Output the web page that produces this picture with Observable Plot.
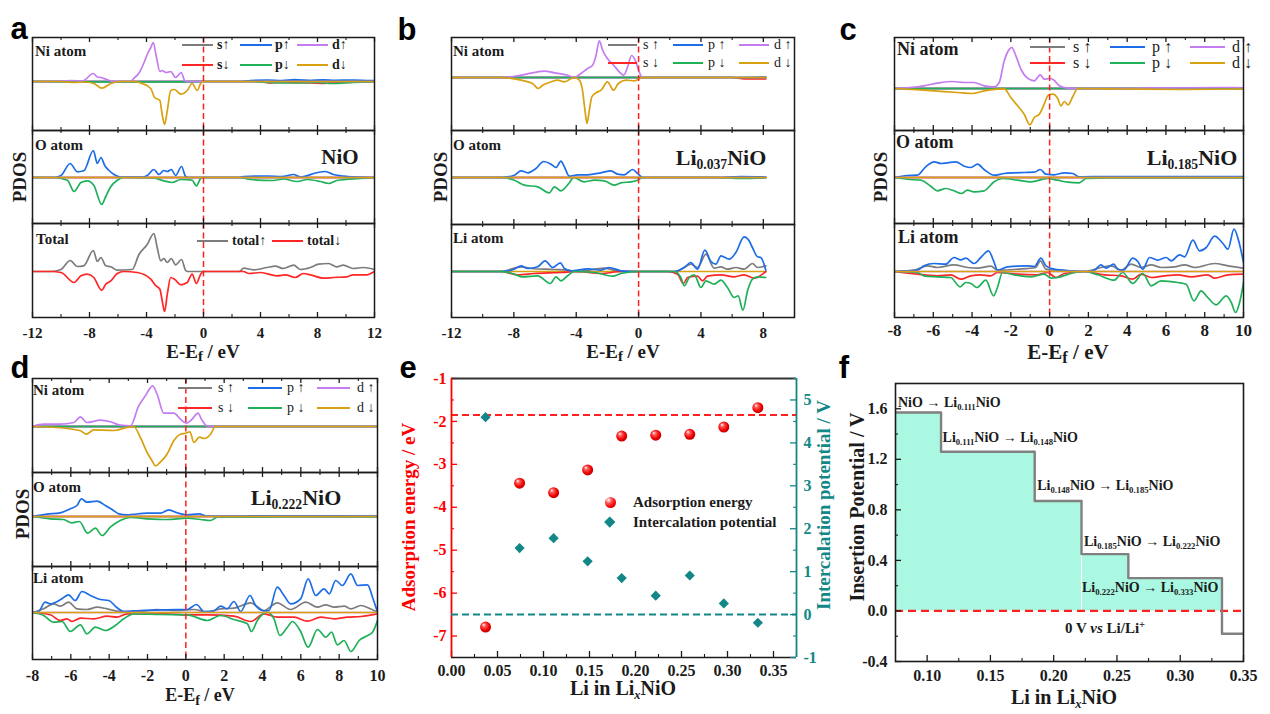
<!DOCTYPE html>
<html><head><meta charset="utf-8">
<script src="https://cdn.jsdelivr.net/npm/d3@7"></script>
<script src="https://cdn.jsdelivr.net/npm/@observablehq/plot@0.6"></script>
<style>
body{margin:0;background:#fff;}
#fig{position:relative;width:1270px;height:714px;overflow:hidden;background:#fff;color:#111;}
#fig svg{position:absolute;overflow:visible;}
.t{position:absolute;white-space:nowrap;line-height:1;}
.t sub{font-size:0.62em;vertical-align:-0.32em;line-height:0;}
.t sub.f{font-size:0.78em;vertical-align:-0.25em;}
.t sup{font-size:0.7em;vertical-align:0.45em;line-height:0;}
.sw{position:absolute;}
</style></head><body><div id="fig"></div>
<script>
// ---------- PDOS data: [energy (eV), PDOS (arb. units)] ----------
// a: NiO
const aNiSUp   = [[-12,0],[5,0],[6,0.8],[8.5,1],[10,0.5],[12,0.3]];
const aNiSDn   = [[-12,0],[4,0],[4.6,-1.5],[5.5,-1],[7,-1.2],[8.4,-1.8],[9.5,-1.2],[12,0]];
const aNiPUp   = [[-12,0],[2.5,0],[3.3,1],[4.5,1.5],[5.5,1],[6.4,1.8],[7.5,1],[8.4,1.6],[9.2,1.2],[10.5,1.5],[12,0.8]];
const aNiPDn   = [[-12,0],[-8,-0.4],[-1.5,-0.4],[0,0],[3,0],[4.8,-1],[6.5,-1.5],[8,-1],[9,-2],[10.5,-1],[12,-0.5]];
const aNiDUp   = [[-12,0],[-10.5,0],[-9.3,1],[-8.5,0.5],[-7.73,8],[-7.45,4.5],[-7.2,4],[-6.8,2],[-6.3,0],[-5.1,0],[-4.9,3],[-4.5,9],[-4.2,18],[-3.95,27],[-3.7,34],[-3.53,39],[-3.3,24],[-3.06,10],[-2.9,11],[-2.78,10],[-2.6,9],[-2.3,10],[-1.96,4],[-1.56,9],[-1.33,1],[-1.2,0],[12,0]];
const aNiDDn   = [[-12,0],[-10,0],[-9.1,-1],[-8.4,-0.5],[-7.7,-2],[-7.14,-6.7],[-6.5,-2],[-5.8,0],[-4.9,0],[-4.3,-2],[-3.7,-7],[-3.43,-16],[-3.06,-19],[-2.9,-33],[-2.73,-43],[-2.54,-29],[-2.3,-9],[-2.03,-8],[-1.6,-12.7],[-1.14,-9],[-0.8,-2],[-0.44,-9],[-0.2,-2],[0,0],[12,0]];
const aOPUp    = [[-12,0],[-10.5,0],[-10,2],[-9.36,14],[-8.85,5.7],[-8.4,6.7],[-7.73,27],[-7.45,14],[-7.2,20],[-6.93,12],[-6.63,7],[-6.28,3],[-5.8,0.5],[-4.2,0.5],[-3.95,2],[-3.48,8],[-3.13,3],[-2.78,7],[-2.54,6],[-2.26,8],[-1.96,2],[-1.54,11],[-1.26,1],[-1.1,0],[2.5,0],[2.8,1],[4.5,1.5],[5.5,1],[6.33,3],[6.8,0.5],[8,5],[8.55,6],[9.1,3],[10.1,1],[12,0]];
const aOPDn    = [[-12,0],[-10.5,0],[-9.55,-2.7],[-9.08,-14],[-8.6,-5],[-8.15,-3.3],[-7.7,-7.7],[-7.14,-27],[-6.86,-19],[-6.5,-9],[-6.05,-2.7],[-5.6,0],[-3.5,-0.5],[-2.78,-3.3],[-2.2,-5],[-1.6,-2],[-0.8,-2.7],[-0.5,-8.3],[-0.2,-1],[0,0],[2.5,0],[3.3,-2],[4.9,-3],[5.6,-1.5],[6.56,-4],[7.3,-2],[8.2,-4],[8.78,-6],[9.36,-3],[11,-1],[12,0]];
const aTotUp   = [[-12,0],[-10.7,0],[-10,2],[-9.36,11],[-8.85,5],[-8.4,5.7],[-7.73,21],[-7.45,10],[-7.2,14],[-6.86,5.7],[-6.5,4.7],[-6.05,1.3],[-5,2],[-4.53,17],[-3.95,27],[-3.48,38],[-3.25,24],[-3,10.7],[-2.78,13],[-2.54,9],[-2.26,13],[-1.96,6.7],[-1.54,12],[-1.26,1.3],[-1.1,0],[2.5,0],[2.83,3.3],[3.5,1.7],[4.46,4],[5.04,5.3],[5.6,3],[6.33,6.3],[6.8,2],[7.5,4],[8.08,7.3],[8.78,8],[9.36,4.7],[9.8,6.3],[10.5,3],[11.2,4],[12,2]];
const aTotDn   = [[-12,0],[-10.7,0],[-10,-1],[-9.08,-11],[-8.6,-4.3],[-8.15,-2.7],[-7.7,-6],[-7.14,-18.7],[-6.86,-12.7],[-6.5,-9.3],[-6.05,-2],[-5.6,0],[-4.65,-1],[-3.7,-7.7],[-3.36,-14],[-3.06,-17.7],[-2.9,-29],[-2.73,-40],[-2.54,-22.7],[-2.3,-6],[-2.03,-7.7],[-1.6,-13.3],[-1.14,-11],[-0.8,-2.7],[-0.5,-12],[-0.2,-2.7],[0,0],[2.8,0],[3.18,-2],[4,-1],[5.16,-4.3],[5.74,-3.3],[6.44,-6],[7,-2],[7.5,-3.3],[8.43,-6.7],[9.13,-6],[10.06,-5.3],[10.5,-3.3],[11.46,-3.3],[12,0]];
const aFlat    = [[-12,0],[12,0]];

// b: Li0.037NiO
const bNiSUp   = [[-12,0],[7,0],[8.16,0.7]];
const bNiSDn   = [[-12,0],[6,0],[6.8,-1.3],[8.16,-1.3]];
const bNiDUp   = [[-12,0],[-8.8,0],[-7.54,2.3],[-6.47,5.7],[-6.05,6.3],[-5.4,4.7],[-4.55,2.3],[-4.12,0],[-3.7,4],[-3.27,9],[-2.95,12.3],[-2.73,22],[-2.52,36.7],[-2.3,27],[-2,19],[-1.6,12.3],[-1.24,5.7],[-0.96,2.3],[-0.7,10.7],[-0.45,22],[-0.17,15.7],[0.04,5.7],[0.26,0],[8.16,0]];
const bNiDDn   = [[-12,0],[-8.8,0],[-7.54,-2.7],[-6.8,-6],[-6.43,-11],[-6.15,-7.7],[-5.6,-4.3],[-5.2,-2.7],[-4.76,-4.3],[-4.12,0],[-3.8,-2.7],[-3.6,-12.7],[-3.44,-32.7],[-3.31,-46],[-3.16,-32.7],[-3,-19.3],[-2.73,-15.3],[-2.4,-12.7],[-2,-4.3],[-1.6,-12.7],[-1.3,-6],[-0.8,-2.7],[-0.28,-3.3],[0.26,0],[8.16,0]];
const bOPUp    = [[-12,0],[-8.8,0],[-7.97,2.3],[-7.54,6.7],[-7.1,4.7],[-6.58,9],[-6.09,16],[-5.62,13.3],[-5.3,10],[-4.98,16.3],[-4.76,10.7],[-4.44,1.3],[-3.9,2.7],[-3.27,2.7],[-2.41,4.7],[-1.77,6.7],[-1.35,3.3],[-0.92,2.7],[-0.38,8],[-0.06,4],[0.26,0],[5,0],[6.56,1],[8.16,0.5]];
const bOPDn    = [[-12,0],[-8.8,0],[-7.97,-2.7],[-7.33,-7.7],[-6.47,-9.3],[-5.73,-15.3],[-5.4,-9.3],[-4.98,-13.3],[-4.44,-5.3],[-4.17,0],[-3.48,-4.3],[-2.84,-2.7],[-2.2,-3.3],[-1.56,-7.7],[-1.13,-5.3],[-0.49,-4.3],[-0.06,-2.7],[0.26,0],[5,0],[6.56,-1],[8.16,-0.3]];
const bLiSUp   = [[-12,0],[-8.8,0],[-7.54,4.7],[-6.9,3],[-5.4,2],[-4.55,1.3],[-4,0],[-2.2,3.3],[-1.1,0],[2.29,0],[2.93,4],[3.35,7.3],[3.78,4],[4.32,17.3],[4.85,3.3],[5.28,4.7],[5.7,2.3],[6.24,4],[6.77,2.3],[7.3,8],[7.63,4],[8.16,5.7]];
const bLiSDn   = [[-12,0],[-8.8,0],[-7.76,-3.3],[-6.69,-2],[-4.98,-1],[-4,0],[-2.4,-2],[-1.1,0],[1.86,0],[2.5,-2.7],[2.88,-12],[3.14,-6],[3.78,-4.7],[4.1,-9.3],[4.42,-4.7],[5.28,-3.3],[6.13,-5.3],[6.77,-3.3],[7.41,-6.7],[8.16,0]];
const bLiPUp   = [[-12,0],[-8.8,0],[-7.97,2.3],[-7.54,5.7],[-7.1,3],[-6.47,4.7],[-6,10.7],[-5.5,4],[-5.02,8.7],[-4.76,3],[-4.34,0.7],[-3.27,2.7],[-2.41,1.3],[-1.88,4],[-1.13,0.7],[0,0],[2.29,0],[2.93,4],[3.35,9],[3.78,2.3],[4.25,21.3],[4.64,10],[4.96,7.3],[5.28,15.7],[5.81,12.3],[6.24,19],[6.77,34.7],[7.09,30.7],[7.3,24],[7.63,14.7],[7.84,14],[8.16,1.3]];
const bLiPDn   = [[-12,0],[-8.8,0],[-7.97,-2.7],[-7.44,-5.3],[-6.47,-4.3],[-5.66,-12],[-5.3,-5.3],[-4.98,-9.3],[-4.55,-4.3],[-4.12,0],[-2.84,-1],[-1.67,-4.7],[-1.13,-2],[0,0],[2.29,0],[2.71,-6],[2.93,-14.3],[3.25,-6],[3.57,-3.3],[4,-16],[4.32,-9.3],[4.85,-12.7],[5.28,-8.7],[5.7,-16],[6.13,-26],[6.39,-24.3],[6.69,-38.7],[6.99,-19.3],[7.3,-7.7],[7.63,-5.3],[8.16,-6]];
const bFlat    = [[-12,0],[8.16,0]];

// c: Li0.185NiO
const cNiDUp   = [[-8,0],[-7.2,1],[-6.48,2.7],[-5.79,5.3],[-5,7],[-4.4,6],[-3.9,6],[-3.37,2.7],[-2.86,1.7],[-2.6,6],[-2.34,27.7],[-2.13,37.7],[-1.95,41],[-1.74,32.7],[-1.48,19.3],[-1.14,10.3],[-0.79,7.7],[-0.48,13.7],[-0.28,9.3],[0,10],[0.2,8.7],[0.5,2.7],[0.93,0.3],[1.45,0],[4,0],[5,0.5],[7,0.7],[9.5,1],[10,0.5]];
const cNiDDn   = [[-8,0],[-6.48,-1.7],[-4.75,-4],[-3.98,-5],[-3.37,-2.3],[-2.7,-0.7],[-2.34,-0.3],[-2,-9],[-1.65,-17.3],[-1.31,-25.7],[-1.02,-36.3],[-0.79,-29],[-0.53,-25.7],[-0.28,-15.7],[-0.07,-6.7],[0.16,-5.7],[0.41,-9.7],[0.59,-17.3],[0.76,-13],[0.96,-16.3],[1.19,-8.3],[1.45,0],[4,-0.5],[7,-1],[10,-0.5]];
const cOPUp    = [[-8,0],[-7.34,2],[-6.82,2.3],[-6.39,10.7],[-5.96,15.7],[-5.6,14],[-5.27,14.7],[-4.84,15.7],[-4.4,11.3],[-4.06,10],[-3.72,13.3],[-3.38,8],[-2.86,2.3],[-2.34,4],[-1.31,5],[-0.79,5.3],[-0.48,8],[-0.19,3.3],[0.24,2.7],[0.76,4.7],[1.19,4],[1.53,0.7],[3,1],[10,1]];
const cOPDn    = [[-8,0],[-7.17,-2],[-6.65,-2.7],[-6.13,-8.7],[-5.79,-13.3],[-5.36,-11],[-4.93,-13.3],[-4.55,-16],[-4.24,-12.7],[-3.9,-14.3],[-3.38,-13.3],[-2.86,-4.3],[-2.43,-1],[-1.65,-2.7],[-0.96,-4.3],[-0.1,-1],[0.41,-2.7],[0.93,-4.7],[1.53,-5.3],[1.88,-1],[3,-0.5],[10,-0.5]];
const cLiSUp   = [[-8,0],[-7,1.3],[-6.3,5.7],[-5.79,4],[-4.93,6.7],[-4.24,4],[-3.72,3.3],[-3.03,5.3],[-2.69,1.3],[-1.65,2.3],[-0.71,4],[-0.48,10.7],[-0.19,2.3],[0.76,0.7],[1.79,0],[2.65,4],[3.17,5.7],[3.69,1.3],[4.2,7.3],[4.72,4],[5.24,6.7],[5.75,4],[6.44,4.7],[6.96,6.7],[7.48,4],[8.51,8],[9.2,5.7],[10,3.3]];
const cLiSDn   = [[-8,0],[-6.82,-2.7],[-5.79,-4.3],[-5.1,-3.3],[-4.58,-7.7],[-4.06,-4.3],[-3.55,-3.3],[-3.03,-4.3],[-2.69,-1],[-1.65,-2.7],[-0.62,-3.3],[-0.1,-1],[0.33,-6],[0.76,-2],[1.79,0],[2.82,-3.3],[3.69,-4.3],[4.29,-7.7],[4.72,-2.7],[5.24,-6],[5.92,-4.3],[6.61,-3.3],[7.3,-5.3],[8.16,-3.3],[8.51,-6.7],[9.2,-3.3],[10,-2.7]];
const cLiPUp   = [[-8,0],[-6.82,1.3],[-6.48,5.7],[-5.96,8],[-5.36,7.3],[-4.93,14],[-4.58,11.7],[-4.32,13.3],[-3.9,8],[-3.55,14],[-3.15,20.7],[-2.89,10.7],[-2.69,1.3],[-2.17,4.7],[-1.14,5.7],[-0.79,5],[-0.45,13.3],[-0.19,5.7],[0.24,2.3],[1.1,0.7],[1.96,0],[2.31,1.3],[2.65,6.7],[2.91,3.3],[3.31,7.3],[3.51,2.3],[3.82,1.3],[4.29,13.3],[4.55,10],[4.81,2.3],[5.15,14],[5.58,11.3],[6.01,14],[6.27,10.7],[6.7,16.7],[6.96,14.7],[7.39,31.3],[7.73,20.7],[8.08,24],[8.51,35.3],[8.94,28],[9.2,22.3],[9.51,42.3],[9.75,30.7],[10,9]];
const cLiPDn   = [[-8,0],[-6.82,-1],[-6.48,-4.3],[-5.79,-5.3],[-5.1,-6],[-4.62,-15.3],[-4.32,-11],[-4.06,-12],[-3.75,-16],[-3.29,-8.7],[-2.89,-24.3],[-2.69,-16],[-2.43,-1],[-1.83,-3.3],[-0.96,-5.3],[-0.28,-2.7],[0.07,-6.7],[0.41,-6],[1.1,-2],[1.79,0],[2.48,-3.3],[3.34,-8.7],[3.77,-1],[4.29,-12],[4.81,-2],[5.24,-14.3],[5.75,-9.3],[6.61,-11],[7.04,-12.7],[7.44,-29.3],[7.82,-19.3],[8.08,-24.3],[8.59,-33.3],[9.11,-24.3],[9.37,-31],[9.59,-41],[9.8,-31],[10,-11]];
const cdFlat   = [[-8,0],[10,0]];

// d: Li0.222NiO
const dNiDUp   = [[-8,0],[-7.42,2.3],[-6.55,2.3],[-5.85,4],[-5.5,9.7],[-5.16,4],[-4.46,6.3],[-3.94,4.7],[-3.42,1.3],[-2.89,0.7],[-2.46,20.7],[-2.11,30.7],[-1.73,40.7],[-1.5,32.3],[-1.15,13.3],[-0.63,13.3],[-0.28,7.3],[0.03,3.3],[0.33,7.3],[0.63,13.3],[0.85,6],[1.15,0],[10,0]];
const dNiDDn   = [[-8,0],[-6.2,-2],[-5.5,-4.3],[-5.19,-7.7],[-4.8,-3.3],[-3.76,-4],[-3.07,-1],[-2.72,0],[-2.37,-11],[-2.02,-26],[-1.76,-34.3],[-1.59,-39.3],[-1.32,-35.3],[-0.98,-27.7],[-0.63,-14.3],[-0.28,-7.7],[0,-6.7],[0.21,-5.3],[0.42,-16],[0.71,-10.7],[0.98,-12],[1.29,-7.7],[1.55,0],[10,0]];
const dOPUp    = [[-8,0],[-7.25,2.3],[-6.55,3.7],[-6.03,7.7],[-5.68,11],[-5.45,17.7],[-5.16,14.3],[-4.63,15.3],[-4.2,11],[-3.85,7],[-3.5,2.7],[-3.07,1.7],[-2.02,3.3],[-1.32,3.3],[-0.89,6.7],[-0.45,3.7],[0.07,1.7],[0.68,2.7],[1.12,0.3],[3,0.5],[5,0.7],[10,0.5]];
const dOPDn    = [[-8,0],[-7.07,-2.3],[-6.38,-3],[-5.94,-6.3],[-5.56,-5],[-5.12,-16.7],[-4.72,-11.7],[-4.37,-19],[-3.94,-10.7],[-3.42,-4],[-2.89,-1],[-2.02,-2.3],[-0.98,-3],[0.07,-1.7],[0.77,-3],[1.29,-4],[1.64,-0.7],[5,-0.5],[10,-0.5]];
const dLiSUp   = [[-8,0],[-7.42,3.7],[-6.9,8.7],[-6.55,6.3],[-6.12,10.3],[-5.68,3.7],[-5.16,3],[-4.63,5.3],[-4.11,3.7],[-3.42,1],[-2.37,1],[-1.5,3],[-0.45,2],[0.42,3],[1.12,0.3],[1.81,3.7],[2.51,4.3],[3.38,9.7],[4.08,2],[4.77,9.7],[5.47,3],[6.26,10.3],[6.87,5.3],[7.3,7.7],[7.74,5.3],[8.26,6.3],[8.61,3.7],[9.13,7],[9.57,4.3],[10,0.3]];
const dLiSDn   = [[-8,0],[-7.07,-2.3],[-6.55,-8],[-6.2,-6.3],[-5.94,-9],[-5.5,-5.7],[-4.8,-6.3],[-4.11,-3.7],[-3.59,-4.7],[-3.07,-1.3],[-0.98,-1.3],[0.07,-2.3],[1.12,-2.3],[2.51,-3.7],[3.38,-9],[4.08,-1.3],[4.77,-4.7],[5.65,-4.7],[6.34,-8.7],[7.04,-4.7],[7.74,-6.3],[8.43,-4.7],[9.13,-4],[10,-1.3]];
const dLiPUp   = [[-8,0],[-7.68,1],[-7.34,10.3],[-7.07,8.7],[-6.55,12.7],[-6.12,17.7],[-5.77,12],[-5.42,21],[-4.98,17],[-4.46,13],[-4.02,12],[-3.62,5.3],[-3.24,1],[-2.37,2],[-0.98,2.7],[0.07,3],[0.56,8],[0.94,1],[1.46,1.7],[1.81,6.3],[2.16,3.7],[2.51,11],[2.86,1],[3.35,17],[3.64,7],[4.08,1.7],[4.34,2],[4.77,25.3],[5.12,17],[5.47,8.7],[5.99,13.7],[6.38,33.7],[6.78,17],[7.21,23.7],[7.48,18.7],[7.82,32],[8.17,27],[8.61,38.7],[8.96,27],[9.48,27.7],[9.74,15.3],[10,0.3]];
const dLiPDn   = [[-8,0],[-7.42,-3],[-6.9,-9.7],[-6.46,-9],[-6.03,-19],[-5.5,-12.3],[-5.16,-21.3],[-4.72,-14.7],[-4.2,-18],[-3.68,-13],[-3.24,-6.3],[-2.72,-1.3],[-1.32,-2],[0.07,-2.3],[1.12,-8],[1.81,-3],[2.51,-7],[3.21,-11.3],[3.42,-19],[3.73,-8],[4.25,0.3],[4.6,-6.3],[4.91,-23],[5.3,-14.7],[5.56,-9],[5.99,-19],[6.38,-34.7],[6.87,-17],[7.3,-24.7],[7.6,-19.7],[7.91,-32.3],[8.26,-28],[8.61,-39],[9.04,-28],[9.48,-23],[9.74,-19.7],[10,-8]];

// ---------- e: adsorption energy and intercalation potential ----------
const eLi  = [0.037, 0.074, 0.111, 0.148, 0.185, 0.222, 0.259, 0.296, 0.333];
const eAds = [-6.79, -3.44, -3.66, -3.13, -2.34, -2.32, -2.30, -2.13, -1.68];   // eV
const ePot = [4.60, 1.55, 1.78, 1.24, 0.85, 0.44, 0.91, 0.26, -0.19];           // V
const eAdsRef = -1.85;
const ePotRef = 0;

// ---------- f: insertion potential steps ----------
const fStart = [0.074, 0.111, 0.185, 0.222, 0.259, 0.333];
const fPot   = [1.57, 1.26, 0.87, 0.45, 0.26, -0.18];
const fEnd   = 0.35;
const fSteps = ["NiO → Li<sub>0.111</sub>NiO", "Li<sub>0.111</sub>NiO → Li<sub>0.148</sub>NiO",
  "Li<sub>0.148</sub>NiO → Li<sub>0.185</sub>NiO", "Li<sub>0.185</sub>NiO → Li<sub>0.222</sub>NiO",
  "Li<sub>0.222</sub>NiO → Li<sub>0.333</sub>NiO"];

// ---------- styling ----------
const SERIF = "'Liberation Serif','Times New Roman',serif";
const SANS = "'Liberation Sans',Arial,sans-serif";
const INK = "#1b1b1b";
const C = {gray:"#7c7c7c", red:"#ff2626", blue:"#1d6ce8", green:"#1fb05a", purple:"#c47cf0", gold:"#d8a10f"};
const DASH_RED = "#ff2020";
const TEAL = "#138787";
const AQUA = "#aaf8e2";

const fig = document.getElementById("fig");

function label(html, x, y, o = {}) {
  const d = document.createElement("div");
  d.className = "t";
  d.innerHTML = html;
  const s = d.style;
  s.left = x + "px"; s.top = y + "px";
  s.fontSize = (o.size || 15) + "px";
  s.fontFamily = o.family || SERIF;
  s.fontWeight = o.weight || "bold";
  s.color = o.color || INK;
  const ax = o.anchor === "middle" ? "-50%" : o.anchor === "end" ? "-100%" : "0";
  s.transform = `translate(${ax},-50%)` + (o.rotate ? ` rotate(${o.rotate}deg)` : "");
  fig.appendChild(d);
  return d;
}
function swatchLine(x1, x2, y, color) {
  const d = document.createElement("div");
  d.className = "sw";
  Object.assign(d.style, {left: x1 + "px", top: (y - 1) + "px", width: (x2 - x1) + "px", height: "2px", background: color});
  fig.appendChild(d);
}
function box(left, top, width, height, xDomain, yDomain, marks, withX = false) {
  const svg = Plot.plot({
    width, height, marginTop: 0, marginRight: 0, marginBottom: 0, marginLeft: 0,
    x: withX ? {domain: xDomain} : {domain: xDomain, axis: null},
    y: {domain: yDomain, axis: null},
    style: {overflow: "visible", background: "transparent", fontFamily: SERIF},
    marks
  });
  svg.style.left = left + "px";
  svg.style.top = top + "px";
  fig.appendChild(svg);
  return svg;
}
const seq = (a, b, s) => d3.range(Math.round((b - a) / s) + 1).map(i => +(a + i * s).toFixed(4));

// ---------- PDOS panels ----------
function pdosPanel(P) {
  const W = P.right - P.left;
  P.subs.forEach((sub, k) => {
    const top = P.bounds[k], bottom = P.bounds[k + 1], H = bottom - top, z = P.zeros[k];
    const last = k === P.subs.length - 1;
    const marks = sub.map(([data, color]) => Plot.line(data, {x: d => d[0], y: d => d[1], stroke: color, strokeWidth: 1.7, curve: "monotone-x", clip: true}));
    marks.push(Plot.ruleX([0], {stroke: DASH_RED, strokeWidth: 1.5, strokeDasharray: "6,3.5"}));
    marks.push(Plot.tickX(P.major, {x: d => d, insetBottom: H - 5, stroke: INK, strokeWidth: 1.3}));
    marks.push(Plot.tickX(P.minor, {x: d => d, insetBottom: H - 3, stroke: INK, strokeWidth: 1.1}));
    marks.push(Plot.tickX(P.major, {x: d => d, insetTop: H - 5, stroke: INK, strokeWidth: 1.3}));
    marks.push(Plot.tickX(P.minor, {x: d => d, insetTop: H - 3, stroke: INK, strokeWidth: 1.1}));
    marks.push(Plot.frame({stroke: INK, strokeWidth: 1.5}));
    if (last) marks.push(Plot.axisX({ticks: P.major, tickSize: 0, tickPadding: P.pad, tickFormat: d => String(d), label: null,
      fontSize: P.font, fontWeight: "bold", fontFamily: SERIF, fill: INK}));
    box(P.left, top, W, H, P.x, [-(bottom - z), z - top], marks, last);
  });
  // legend in the Ni block
  const L = P.legend;
  const rows = [[["s", C.gray], ["p", C.blue], ["d", C.purple]], [["s", C.red], ["p", C.green], ["d", C.gold]]];
  rows.forEach((row, r) => row.forEach(([name, color], i) => {
    swatchLine(L.lines[i][0], L.lines[i][1], L.rows[r], color);
    label(name + L.gap + (r ? "↓" : "↑"), L.text[i], L.rows[r], {size: L.size, weight: L.weight});
  }));
}

pdosPanel({
  left: 32, right: 374, bounds: [37, 130, 223, 317], zeros: [81, 177, 271],
  x: [-12, 12], major: seq(-12, 12, 4), minor: seq(-10, 10, 4), font: 15, pad: 10,
  subs: [
    [[aNiSUp, C.gray], [aNiSDn, C.red], [aNiPUp, C.blue], [aNiPDn, C.green], [aNiDUp, C.purple], [aNiDDn, C.gold]],
    [[aFlat, C.gray], [aFlat, C.red], [aOPUp, C.blue], [aOPDn, C.green], [aFlat, C.purple], [aFlat, C.gold]],
    [[aTotUp, C.gray], [aTotDn, C.red]]
  ],
  legend: {rows: [45, 65], lines: [[182, 213], [240, 272], [297, 328]], text: [217, 275, 332], size: 14, weight: "bold", gap: ""}
});
pdosPanel({
  left: 451, right: 794, bounds: [37, 130, 224, 317], zeros: [77, 177, 271],
  x: [-12, 10], major: seq(-12, 8, 4), minor: seq(-10, 10, 4), font: 15, pad: 10,
  subs: [
    [[bNiSUp, C.gray], [bNiSDn, C.red], [bFlat, C.blue], [bFlat, C.green], [bNiDUp, C.purple], [bNiDDn, C.gold]],
    [[bFlat, C.gray], [bFlat, C.red], [bOPUp, C.blue], [bOPDn, C.green], [bFlat, C.purple], [bFlat, C.gold]],
    [[bFlat, C.gold], [bLiSUp, C.gray], [bLiSDn, C.red], [bLiPUp, C.blue], [bLiPDn, C.green]]
  ],
  legend: {rows: [45, 63], lines: [[608, 637], [673, 703], [739, 769]], text: [643, 708, 774], size: 14, weight: "normal", gap: " "}
});
pdosPanel({
  left: 894, right: 1243, bounds: [37, 130, 223, 317], zeros: [88, 177, 271],
  x: [-8, 10], major: seq(-8, 10, 2), minor: seq(-7, 9, 2), font: 17, pad: 6,
  subs: [
    [[cdFlat, C.gray], [cdFlat, C.red], [cdFlat, C.blue], [cdFlat, C.green], [cNiDUp, C.purple], [cNiDDn, C.gold]],
    [[cdFlat, C.gray], [cdFlat, C.red], [cOPUp, C.blue], [cOPDn, C.green], [cdFlat, C.purple], [cdFlat, C.gold]],
    [[cLiSUp, C.gray], [cLiSDn, C.red], [cLiPUp, C.blue], [cLiPDn, C.green], [cdFlat, C.purple], [cdFlat, C.gold]]
  ],
  legend: {rows: [47, 63], lines: [[1030, 1065], [1110, 1145], [1190, 1225]], text: [1073, 1152, 1232], size: 16, weight: "normal", gap: " "}
});
pdosPanel({
  left: 32, right: 377, bounds: [378, 472, 566, 659], zeros: [426, 516, 612],
  x: [-8, 10], major: seq(-8, 10, 2), minor: seq(-7, 9, 2), font: 16, pad: 10,
  subs: [
    [[cdFlat, C.gray], [cdFlat, C.red], [cdFlat, C.blue], [cdFlat, C.green], [dNiDUp, C.purple], [dNiDDn, C.gold]],
    [[cdFlat, C.gray], [cdFlat, C.red], [dOPUp, C.blue], [dOPDn, C.green], [cdFlat, C.purple], [cdFlat, C.gold]],
    [[dLiSUp, C.gray], [dLiSDn, C.red], [dLiPUp, C.blue], [dLiPDn, C.green], [cdFlat, C.purple], [cdFlat, C.gold]]
  ],
  legend: {rows: [388, 408], lines: [[178, 212], [248, 282], [317, 350]], text: [218, 287, 357], size: 14, weight: "normal", gap: " "}
});

// PDOS block labels
label("Ni atom", 35, 51); label("O atom", 35, 145); label("Total", 36, 239);
swatchLine(197, 228, 241, C.gray); label("total↑", 232, 241, {size: 14});
swatchLine(272, 303, 241, C.red); label("total↓", 307, 241, {size: 14});
label("NiO", 340, 157, {size: 21, anchor: "middle"});
label("Ni atom", 453, 51); label("O atom", 453, 145); label("Li atom", 453, 238);
label("Li<sub>0.037</sub>NiO", 721, 158, {size: 22, anchor: "middle"});
label("Ni atom", 897, 49, {size: 18}); label("O atom", 896, 142, {size: 18}); label("Li atom", 898, 237, {size: 18});
label("Li<sub>0.185</sub>NiO", 1192, 158, {size: 22, anchor: "middle"});
label("Ni atom", 33, 390); label("O atom", 33, 487); label("Li atom", 33, 578);
label("Li<sub>0.222</sub>NiO", 296, 498, {size: 22, anchor: "middle"});
for (const [x, y] of [[19, 177], [440, 177], [880, 177], [22, 514]])
  label("PDOS", x, y, {size: 19, anchor: "middle", rotate: -90});
label('E-E<sub class="f">f</sub> / eV', 203, 351, {size: 19, anchor: "middle"});
label('E-E<sub class="f">f</sub> / eV', 623, 351, {size: 19, anchor: "middle"});
label('E-E<sub class="f">f</sub> / eV', 1068, 352, {size: 21, anchor: "middle"});
label('E-E<sub class="f">f</sub> / eV', 200, 695, {size: 18, anchor: "middle"});

// ---------- panel e ----------
{
  const rows = eLi.map((x, i) => ({x, ads: eAds[i], pot: ePot[i]}));
  const L = 451, T = 378, W = 345, H = 279, X = [0, 0.375];
  const xMaj = seq(0, 0.35, 0.05), xMin = seq(0.025, 0.375, 0.05);
  const svgA = box(L, T, W, H, X, [-7.5, -1], [
    Plot.ruleY([eAdsRef], {stroke: DASH_RED, strokeWidth: 2, strokeDasharray: "7,4"}),
    Plot.dot(rows, {x: "x", y: "ads", r: 5.5, fill: "url(#ballRed)", stroke: "none"}),
    Plot.tickY(seq(-7, -1, 1), {y: d => d, insetRight: W - 6, stroke: "#ff0000", strokeWidth: 1.3}),
    Plot.tickY(seq(-7.5, -1.5, 1), {y: d => d, insetRight: W - 3, stroke: "#ff0000", strokeWidth: 1.1}),
    Plot.tickX(xMaj, {x: d => d, insetTop: H - 6, stroke: INK, strokeWidth: 1.3}),
    Plot.tickX(xMin, {x: d => d, insetTop: H - 3, stroke: INK, strokeWidth: 1.1}),
    Plot.ruleY([-1], {stroke: "#333", strokeWidth: 2}),
    Plot.ruleY([-7.5], {stroke: INK, strokeWidth: 1.5}),
    Plot.ruleX([0], {stroke: "#ff0000", strokeWidth: 1.8}),
    Plot.axisY({ticks: seq(-7, -1, 1), tickSize: 0, tickPadding: 5, tickFormat: d => String(d), label: null,
      fontSize: 16, fontWeight: "bold", fontFamily: SERIF, fill: "#ff0000"}),
    Plot.axisX({ticks: xMaj, tickSize: 0, tickPadding: 7, tickFormat: d => d.toFixed(2), label: null,
      fontSize: 16, fontWeight: "bold", fontFamily: SERIF, fill: INK})
  ], true);
  const NS = "http://www.w3.org/2000/svg";
  const defs = document.createElementNS(NS, "defs");
  const g = document.createElementNS(NS, "radialGradient");
  for (const [k, v] of [["id", "ballRed"], ["cx", "0.45"], ["cy", "0.45"], ["r", "0.6"], ["fx", "0.32"], ["fy", "0.28"]]) g.setAttribute(k, v);
  for (const [o, c] of [["0", "#ffffff"], ["0.28", "#ff5a5a"], ["0.7", "#ee0000"], ["1", "#b30000"]]) {
    const s = document.createElementNS(NS, "stop"); s.setAttribute("offset", o); s.setAttribute("stop-color", c); g.appendChild(s);
  }
  defs.appendChild(g); svgA.insertBefore(defs, svgA.firstChild);

  box(L, T, W, H, X, [-1, 5.5], [
    Plot.ruleY([ePotRef], {stroke: TEAL, strokeWidth: 2, strokeDasharray: "7,4"}),
    Plot.dot(rows, {x: "x", y: "pot", r: 4.6, symbol: "diamond2", fill: TEAL, stroke: "none"}),
    Plot.tickY(seq(-1, 5, 1), {y: d => d, insetLeft: W - 6, stroke: TEAL, strokeWidth: 1.3}),
    Plot.tickY(seq(-0.5, 5, 1), {y: d => d, insetLeft: W - 3, stroke: TEAL, strokeWidth: 1.1}),
    Plot.ruleX([0.375], {stroke: TEAL, strokeWidth: 1.8}),
    Plot.axisY({anchor: "right", ticks: seq(-1, 5, 1), tickSize: 0, tickPadding: 7, tickFormat: d => String(d), label: null,
      fontSize: 16, fontWeight: "bold", fontFamily: SERIF, fill: TEAL})
  ]);

  // legend
  const ball = document.createElement("div");
  Object.assign(ball.style, {position: "absolute", left: "604.5px", top: "496.5px", width: "11px", height: "11px", borderRadius: "50%",
    background: "radial-gradient(circle at 32% 28%, #fff 0, #ff5a5a 28%, #ee0000 65%, #b30000 100%)"});
  fig.appendChild(ball);
  const dia = document.createElement("div");
  Object.assign(dia.style, {position: "absolute", left: "606px", top: "518px", width: "7.5px", height: "7.5px", background: TEAL, transform: "rotate(45deg)"});
  fig.appendChild(dia);
  label("Adsorption energy", 633, 502, {size: 15});
  label("Intercalation potential", 633, 522, {size: 15});
  label("Adsorption energy / eV", 408, 517, {size: 19, anchor: "middle", rotate: -90, color: "#ff0000"});
  label("Intercalation potential / V", 823, 505, {size: 19, anchor: "middle", rotate: -90, color: TEAL});
  label("Li in Li<sub><i>x</i></sub>NiO", 623, 688, {size: 20, anchor: "middle"});
}

// ---------- panel f ----------
{
  const L = 895, T = 383, W = 348, H = 278, X = [0.075, 0.35];
  const line = fStart.map((x, i) => [x, fPot[i]]).concat([[fEnd, fPot[fPot.length - 1]]]);
  const fillA = line.slice(0, 4).concat([[fStart[3], fPot[3]]]);          // up to the 0.222 seam
  const fillB = line.slice(3, 5).concat([[fStart[5], fPot[4]]]);          // 0.222 → 0.333
  const xMaj = seq(0.10, 0.35, 0.05), xMin = seq(0.125, 0.325, 0.05);
  const yMaj = seq(-0.4, 1.6, 0.4), yMin = seq(-0.2, 1.8, 0.4);
  const svg = box(L, T, W, H, X, [-0.4, 1.8], [
    Plot.areaY(fillA, {x: d => d[0], y1: 0, y2: d => d[1], curve: "step-after", fill: AQUA, clip: true}),
    Plot.areaY(fillB, {x: d => d[0], y1: 0, y2: d => d[1], curve: "step-after", fill: AQUA, clip: true}),
    Plot.ruleX([fStart[3]], {y1: 0, y2: fPot[3], stroke: "#fff", strokeWidth: 1}),
    Plot.ruleY([0], {stroke: DASH_RED, strokeWidth: 2.2, strokeDasharray: "8,5"}),
    Plot.line(line, {x: d => d[0], y: d => d[1], curve: "step-after", stroke: "#808080", strokeWidth: 2.4, clip: true}),
    Plot.tickX(xMaj, {x: d => d, insetTop: H - 6, stroke: INK, strokeWidth: 1.3}),
    Plot.tickX(xMin, {x: d => d, insetTop: H - 3, stroke: INK, strokeWidth: 1.1}),
    Plot.tickY(yMaj, {y: d => d, insetRight: W - 6, stroke: INK, strokeWidth: 1.3}),
    Plot.tickY(yMin, {y: d => d, insetRight: W - 3, stroke: INK, strokeWidth: 1.1}),
    Plot.frame({stroke: INK, strokeWidth: 1.6}),
    Plot.axisY({ticks: yMaj, tickSize: 0, tickPadding: 8, tickFormat: d => d.toFixed(1), label: null,
      fontSize: 16, fontWeight: "bold", fontFamily: SERIF, fill: INK}),
    Plot.axisX({ticks: xMaj, tickSize: 0, tickPadding: 8, tickFormat: d => d.toFixed(2), label: null,
      fontSize: 16, fontWeight: "bold", fontFamily: SERIF, fill: INK})
  ], true);
  const sx = svg.scale("x"), sy = svg.scale("y");
  const px = v => L + sx.apply(v), py = v => T + sy.apply(v);
  label(fSteps[0], px(X[0]) + 3, py(fPot[0]) - 9, {size: 14});
  label(fSteps[1], px(fStart[1]) + 2, py(fPot[1]) - 13, {size: 14});
  label(fSteps[2], px(fStart[2]) + 3, py(fPot[2]) - 15, {size: 14});
  label(fSteps[3], px(fStart[3]) + 3, py(fPot[3]) - 12, {size: 14});
  label(fSteps[4], px(fStart[3]) + 1, py(fPot[4]) + 10, {size: 14});
  label("0 V <i>vs</i> Li/Li<sup>+</sup>", px(fStart[3]) - 16, py(0) + 18, {size: 15});
  label("Insertion Potential / V", 857, 507, {size: 20, anchor: "middle", rotate: -90});
  label("Li in Li<sub><i>x</i></sub>NiO", 1064, 697, {size: 20, anchor: "middle"});
}

// panel letters
for (const [t, x, y] of [["a", 19, 28], ["b", 407, 29], ["c", 848, 29], ["d", 20, 367], ["e", 408, 367], ["f", 844, 367]])
  label(t, x, y, {size: 31, family: SANS, anchor: "middle", color: "#000"});
</script></body></html>
